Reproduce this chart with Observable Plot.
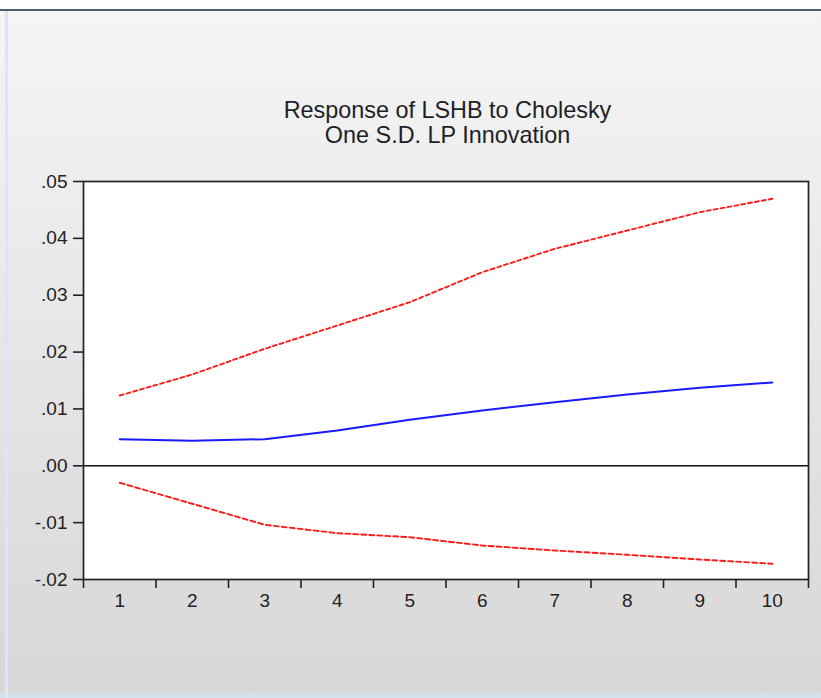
<!DOCTYPE html>
<html>
<head>
<meta charset="utf-8">
<script src="https://cdn.jsdelivr.net/npm/d3@7"></script>
<script src="https://cdn.jsdelivr.net/npm/@observablehq/plot@0.6"></script>
<style>
  html, body { margin: 0; padding: 0; }
  body { width: 821px; height: 698px; overflow: hidden; position: relative;
         font-family: "Liberation Sans", Arial, sans-serif;
         background: linear-gradient(to bottom, #ffffff 0px, #ffffff 9px, #4e5d72 9px, #4e5d72 11px, #f5f5f5 11px, #d7d7d7 692px, #d3e0ee 694px, #d3e0ee 698px); }
  #leftedge { position: absolute; left: 5px; top: 11px; width: 3px; height: 687px; background: #dbe6f2; }
  .title { position: absolute; left: 0; width: 895px; text-align: center; font-size: 23.4px; line-height: 25px; color: #1e1e28; white-space: nowrap; }
  #chart { position: absolute; left: 0; top: 0; }
  #chart svg text { font-family: "Liberation Sans", Arial, sans-serif; }
</style>
</head>
<body>
<div id="leftedge"></div>
<div class="title" style="top:98px">Response of LSHB to Cholesky</div>
<div class="title" style="top:123px">One S.D. LP Innovation</div>
<div id="chart"></div>
<script>
const periods = [1, 2, 3, 4, 5, 6, 7, 8, 9, 10];
const xLabels = ["1", "2", "3", "4", "5", "6", "7", "8", "9", "10"];
const response = [0.00468, 0.0044, 0.00468, 0.0062, 0.0081, 0.00973, 0.01119, 0.01254, 0.01371, 0.01465];
const upperBand = [0.01236, 0.01606, 0.02058, 0.02467, 0.02877, 0.03405, 0.03816, 0.04138, 0.0446, 0.04696];
const lowerBand = [-0.00299, -0.00668, -0.01038, -0.01185, -0.01256, -0.01402, -0.0149, -0.01565, -0.01648, -0.01723];
const yTicks = [-0.02, -0.01, 0, 0.01, 0.02, 0.03, 0.04, 0.05];
const yTickLabels = ["-.02", "-.01", ".00", ".01", ".02", ".03", ".04", ".05"];
const xBoundaries = [0.5, 1.5, 2.5, 3.5, 4.5, 5.5, 6.5, 7.5, 8.5, 9.5, 10.5];

const rows = (vals) => periods.map((p, i) => ({period: p, value: vals[i]}));
const font = "Liberation Sans, Arial, sans-serif";

const chart = Plot.plot({
  width: 821,
  height: 698,
  marginLeft: 83,
  marginRight: 13,
  marginTop: 181,
  marginBottom: 119,
  style: {fontFamily: font, fontSize: "19px", background: "transparent", color: "#222", overflow: "visible"},
  x: {domain: [0.5, 10.5], axis: null},
  y: {domain: [-0.02, 0.05], axis: null},
  marks: [
    Plot.frame({fill: "white", stroke: "none"}),
    Plot.ruleY([0], {stroke: "#111", strokeWidth: 1.5}),
    Plot.line(rows(upperBand), {x: "period", y: "value", stroke: "#ff1a1a", strokeWidth: 1.9, strokeDasharray: "4,3"}),
    Plot.line(rows(lowerBand), {x: "period", y: "value", stroke: "#ff1a1a", strokeWidth: 1.9, strokeDasharray: "5,3"}),
    Plot.line(rows(response), {x: "period", y: "value", stroke: "#1a1aff", strokeWidth: 2}),
    Plot.frame({stroke: "#222", strokeWidth: 1.7}),
    Plot.axisX(xBoundaries, {tickSize: 9, tickFormat: () => "", stroke: "#222", strokeWidth: 1.6, label: null}),
    Plot.axisX(periods, {tickSize: 0, tickPadding: 14, tickFormat: d => xLabels[periods.indexOf(d)], fontSize: 19, fontFamily: font, fill: "#222", label: null}),
    Plot.axisY(yTicks, {tickSize: 10, tickPadding: 6, tickFormat: d => yTickLabels[yTicks.indexOf(d)], fontSize: 19, fontFamily: font, fill: "#222", stroke: "#222", strokeWidth: 1.6, label: null})
  ]
});
document.getElementById("chart").appendChild(chart);
</script>
</body>
</html>
